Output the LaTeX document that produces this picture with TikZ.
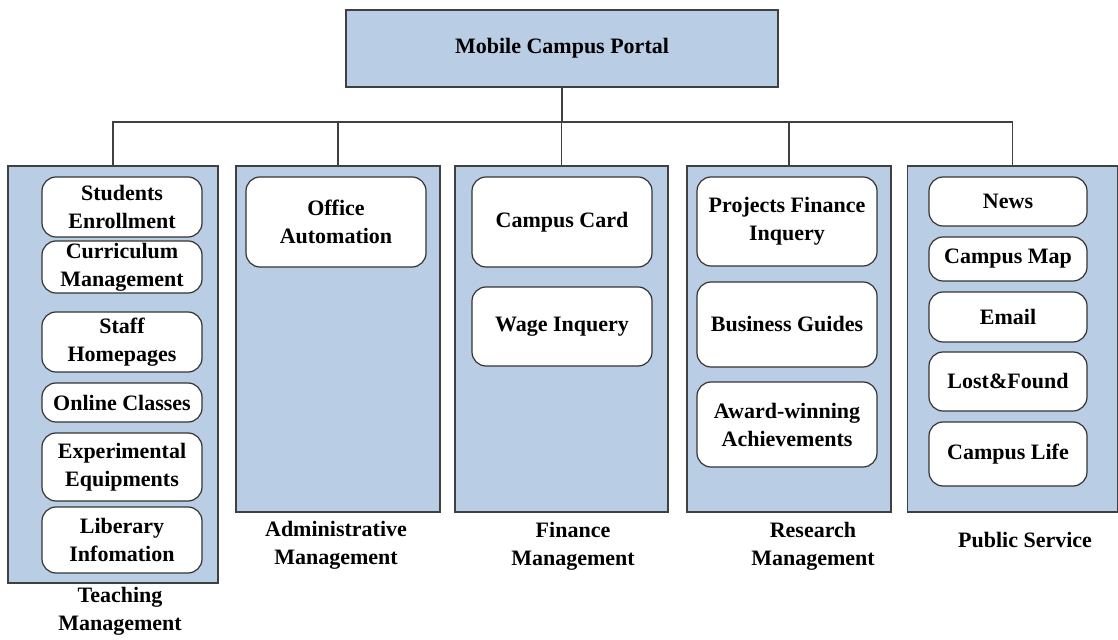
\documentclass[tikz,border=0pt]{standalone}
\usepackage{fontspec}
\setmainfont{Liberation Serif}
\usetikzlibrary{calc}
\definecolor{colBlue}{RGB}{185,205,228}

\begin{document}
\begin{tikzpicture}[x=0.5pt,y=-0.5pt,
    font=\fontsize{11}{14}\selectfont\bfseries,
    colBox/.style={draw=black!75,fill=colBlue,line width=0.6pt,inner sep=0pt},
    itemBox/.style={draw=black!80,fill=white,rounded corners=7pt,align=center,
      inner sep=0pt,line width=0.6pt},
    colLabel/.style={align=center,inner sep=0pt},
    lineCon/.style={draw=black!75,line width=0.6pt}]
      \useasboundingbox (0,0) rectangle (1118,640);
      %top
      \node[colBox,minimum width=216pt,minimum height=38.5pt] (portal) at (562,48.5) {Mobile Campus Portal};
      \coordinate (bus) at (0,122);
      %columns
      \node[colBox,minimum width=105pt,minimum height=208.5pt] (teach) at (113,374.5) {};
      \node[colBox,minimum width=102pt,minimum height=173pt] (admin) at (338,339) {};
      \node[colBox,minimum width=106.5pt,minimum height=173pt] (finance) at (561.5,339) {};
      \node[colBox,minimum width=102pt,minimum height=173pt] (research) at (789,339) {};
      \node[colBox,minimum width=105pt,minimum height=173pt] (public) at (1012.5,339) {};
      %connectors
      \draw[lineCon] (portal.south) -- (portal.south |- bus);
      \draw[lineCon] (teach.north) -- (teach.north |- bus) -- (public.north |- bus) -- (public.north);
      \foreach \c in {admin,finance,research}
        \draw[lineCon] (\c.north) -- (\c.north |- bus);
      %teaching
      \node[itemBox,minimum width=80pt,minimum height=30pt] (stuEnroll) at (122,207) {Students\\Enrollment};
      \node[itemBox,minimum width=80pt,minimum height=26pt] (curMan) at (122,267) {Curriculum\\Management};
      \node[itemBox,minimum width=80pt,minimum height=30pt] (staffHome) at (122,342) {Staff\\Homepages};
      \node[itemBox,minimum width=80pt,minimum height=19.5pt] (onlineCls) at (122,402.5) {Online Classes};
      \node[itemBox,minimum width=80pt,minimum height=34pt] (expEquip) at (122,467) {Experimental\\Equipments};
      \node[itemBox,minimum width=80pt,minimum height=33pt] (libInfo) at (122,540) {Liberary\\Infomation};
      %administrative
      \node[itemBox,minimum width=90pt,minimum height=45pt] (officeAuto) at (336,222) {Office\\Automation};
      %finance
      \node[itemBox,minimum width=90pt,minimum height=45pt] (campCard) at (562,222) {Campus Card};
      \node[itemBox,minimum width=90pt,minimum height=39.5pt] (wageInq) at (562,326.5) {Wage Inquery};
      %research
      \node[itemBox,minimum width=90pt,minimum height=44.5pt] (projFin) at (787,221.5) {Projects Finance\\Inquery};
      \node[itemBox,minimum width=90pt,minimum height=42.5pt] (busGuide) at (787,324.5) {Business Guides};
      \node[itemBox,minimum width=90pt,minimum height=42.5pt] (awardAch) at (787,424.5) {Award-winning\\Achievements};
      %public service
      \node[itemBox,minimum width=79pt,minimum height=24.5pt] (news) at (1008,201.5) {News};
      \node[itemBox,minimum width=79pt,minimum height=22pt] (campMap) at (1008,259) {Campus Map};
      \node[itemBox,minimum width=79pt,minimum height=25pt] (email) at (1008,317) {Email};
      \node[itemBox,minimum width=79pt,minimum height=29.5pt] (lostFound) at (1008,381.5) {Lost\&Found};
      \node[itemBox,minimum width=79pt,minimum height=32pt] (campLife) at (1008,454) {Campus Life};
      %labels
      \node[colLabel] (teachLbl) at (120,611) {Teaching\\Management};
      \node[colLabel] (adminLbl) at (336,545) {Administrative\\Management};
      \node[colLabel] (financeLbl) at (573,546) {Finance\\Management};
      \node[colLabel] (researchLbl) at (813,546) {Research\\Management};
      \node[colLabel] (publicLbl) at (1025,540) {Public Service};
    \end{tikzpicture}
\end{document}
